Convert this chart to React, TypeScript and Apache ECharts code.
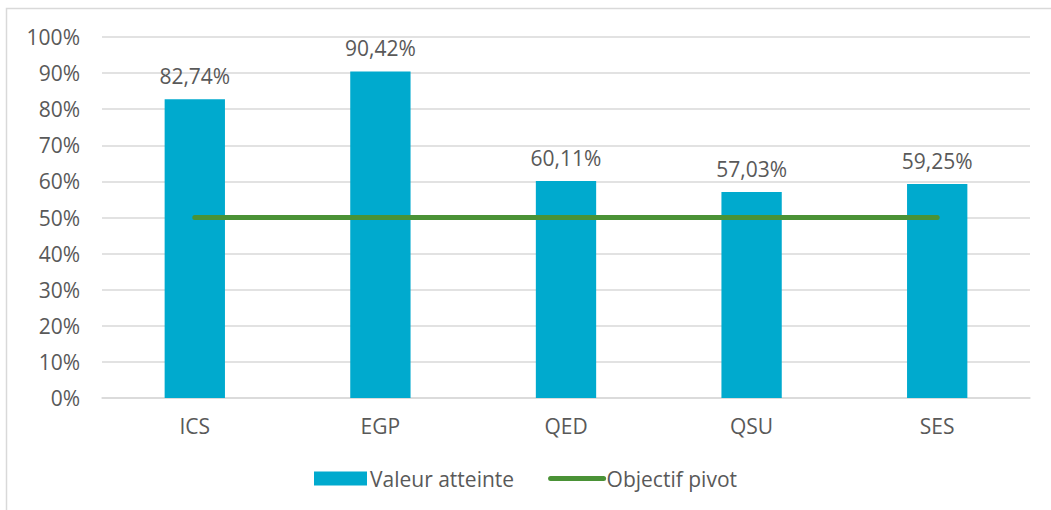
import React, { useEffect, useRef } from "react";
import * as echarts from "echarts";

const categories = ["ICS", "EGP", "QED", "QSU", "SES"];
const valeurAtteinte = [82.74, 90.42, 60.11, 57.03, 59.25];
const objectifPivot = [50, 50, 50, 50, 50];
const seriesNames = ["Valeur atteinte", "Objectif pivot"];

const FONT = "'Open Sans', Lato, sans-serif";
const TEXT = "#595959";
const FS = 21;

export default function App() {
  const ref = useRef<HTMLDivElement>(null);
  useEffect(() => {
    if (!ref.current) return;
    const chart = echarts.init(ref.current, null, { renderer: "svg" });
    chart.setOption({
      animation: false,
      backgroundColor: "#ffffff",
      textStyle: { fontFamily: FONT, color: TEXT },
      graphic: [
        {
          type: "rect",
          shape: { x: 6.5, y: 8.5, width: 1060, height: 520 },
          style: { fill: "none", stroke: "#d9d9d9", lineWidth: 1.5 },
          silent: true,
          z: -1,
        },
      ],
      grid: { left: 102, right: 21, top: 37, bottom: 112, containLabel: false },
      legend: {
        bottom: 16,
        left: "center",
        itemGap: 34,
        itemWidth: 53,
        itemHeight: 14,
        textStyle: { fontFamily: FONT, fontSize: FS, color: TEXT, padding: [0, 0, 0, -2] },
        data: [
          { name: seriesNames[0], icon: "rect" },
          {
            name: seriesNames[1],
            itemStyle: { opacity: 0 },
            lineStyle: { width: 5, cap: "round", color: "#4A9236" },
          },
        ],
      },
      xAxis: {
        type: "category",
        data: categories,
        axisLine: { lineStyle: { color: "#d9d9d9", width: 1.5 } },
        axisTick: { show: false },
        axisLabel: { fontFamily: FONT, fontSize: FS, color: TEXT, margin: 17 },
      },
      yAxis: {
        type: "value",
        min: 0,
        max: 100,
        interval: 10,
        axisLine: { show: false },
        axisTick: { show: false },
        splitLine: { lineStyle: { color: "#d9d9d9", width: 1.5 } },
        axisLabel: {
          fontFamily: FONT,
          fontSize: FS,
          color: TEXT,
          margin: 22,
          formatter: (v: number) => `${v}%`,
        },
      },
      series: [
        {
          name: seriesNames[0],
          type: "bar",
          data: valeurAtteinte,
          barWidth: "32.5%",
          itemStyle: { color: "#00AACE" },
          label: {
            show: true,
            position: "top",
            distance: 13,
            fontFamily: FONT,
            fontSize: FS,
            color: TEXT,
            formatter: (p: any) => `${p.value.toFixed(2).replace(".", ",")}%`,
          },
        },
        {
          name: seriesNames[1],
          type: "line",
          data: objectifPivot,
          symbol: "none",
          lineStyle: { color: "#4A9236", width: 5, cap: "round" },
          itemStyle: { color: "#4A9236" },
          z: 5,
        },
      ],
    });
    return () => chart.dispose();
  }, []);
  return (
    <div
      ref={ref}
      style={{ position: "fixed", left: 0, top: 0, width: 1051, height: 510 }}
    />
  );
}
